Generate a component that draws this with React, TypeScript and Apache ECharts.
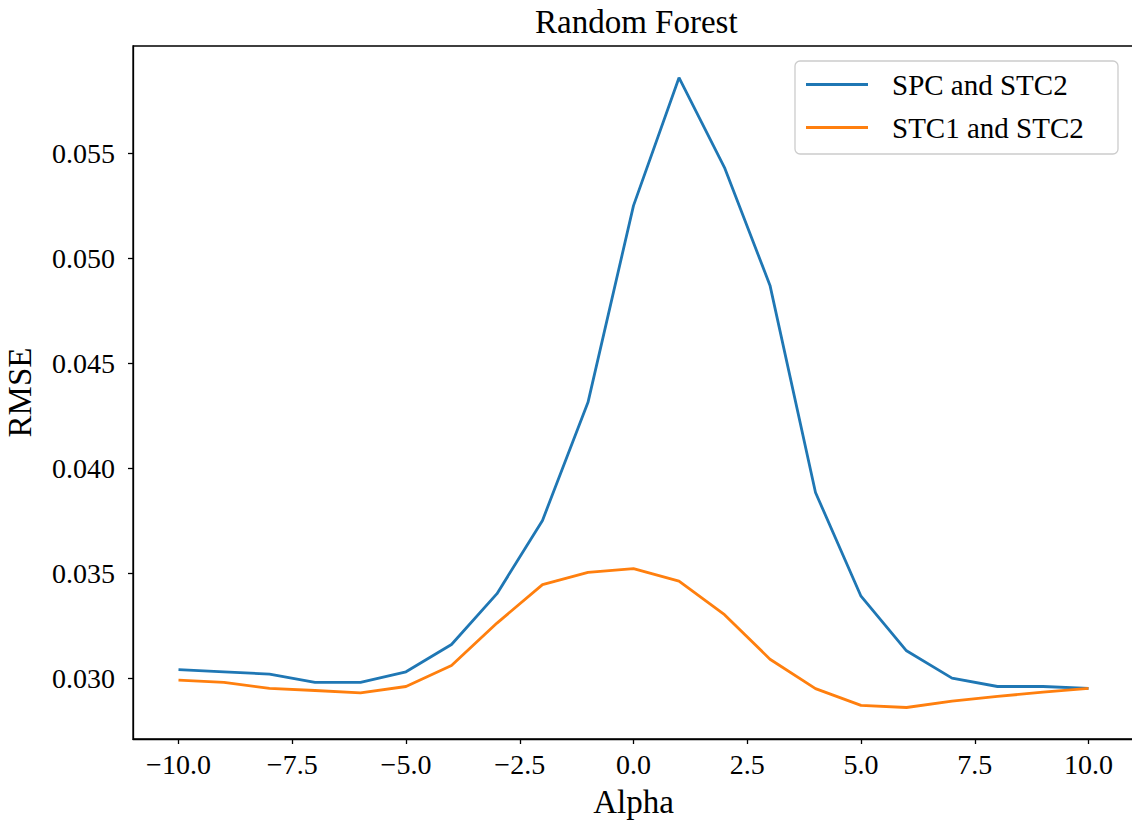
import React, { useEffect, useRef } from "react";
import * as echarts from "echarts";

const alphas = [-10, -9, -8, -7, -6, -5, -4, -3, -2, -1, 0, 1, 2, 3, 4, 5, 6, 7, 8, 9, 10];
const spcStc2 = [
  0.0304, 0.0303, 0.03019, 0.0298, 0.0298, 0.0303, 0.0316, 0.03402, 0.03751, 0.04313,
  0.0525, 0.05859, 0.05431, 0.0487, 0.03884, 0.0339, 0.0313, 0.03, 0.0296, 0.0296, 0.02951,
];
const stc1Stc2 = [
  0.0299, 0.0298, 0.02951, 0.02941, 0.0293, 0.0296, 0.0306, 0.03262, 0.03445, 0.03503,
  0.03521, 0.03462, 0.03302, 0.0309, 0.0295, 0.0287, 0.0286, 0.0289, 0.02913, 0.02933, 0.02951,
];
const xTicks = [-10, -7.5, -5, -2.5, 0, 2.5, 5, 7.5, 10];
const yTicks = [0.03, 0.035, 0.04, 0.045, 0.05, 0.055];
const seriesNames = ["SPC and STC2", "STC1 and STC2"];
const colors = ["#1f77b4", "#ff7f0e"];

const FONT = "'Liberation Serif', 'DejaVu Serif', serif";

export default function App() {
  const ref = useRef<HTMLDivElement>(null);
  useEffect(() => {
    document.body.style.margin = "0";
    const chart = echarts.init(ref.current!, null, { renderer: "svg" });
    const fmtX = (v: number) => {
      const s = Math.abs(v).toFixed(1);
      return v < 0 ? "\u2212" + s : s;
    };
    chart.setOption({
      animation: false,
      backgroundColor: "#ffffff",
      title: {
        text: "Random Forest",
        left: 530,
        top: 0,
        textStyle: { fontFamily: FONT, fontSize: 33, fontWeight: "normal", color: "#000" },
      },
      grid: {
        left: 133,
        top: 46,
        width: 1001,
        height: 693,
        containLabel: false,
        outerBoundsMode: "none",
        show: true,
        borderColor: "#000",
        borderWidth: 1.3,
        backgroundColor: "transparent",
      },
      legend: {
        orient: "vertical",
        left: 795,
        top: 61,
        padding: [6, 10, 6, 11],
        itemWidth: 62,
        itemHeight: 3,
        itemGap: 8,
        icon: "rect",
        data: seriesNames,
        textStyle: {
          fontFamily: FONT,
          fontSize: 29,
          color: "#000",
          lineHeight: 35,
          padding: [0, 0, 0, 19],
        },
        z: 10,
      },
      graphic: [
        {
          type: "rect",
          shape: { x: 795, y: 61, width: 323, height: 93, r: 5 },
          style: { fill: "rgba(255,255,255,0.8)", stroke: "#cccccc", lineWidth: 1.3 },
          z: 5,
          silent: true,
        },
      ],
      xAxis: {
        type: "value",
        min: -11,
        max: 11,
        name: "Alpha",
        nameLocation: "middle",
        nameGap: 46,
        nameTextStyle: { fontFamily: FONT, fontSize: 33, color: "#000" },
        axisLine: { show: true, onZero: false, lineStyle: { color: "#000", width: 1.3 } },
        axisTick: { show: true, inside: false, length: 5, customValues: xTicks, lineStyle: { color: "#000", width: 1.3 } },
        axisLabel: {
          customValues: xTicks,
          formatter: fmtX,
          margin: 11,
          fontFamily: FONT,
          fontSize: 28,
          color: "#000",
        },
        splitLine: { show: false },
      },
      yAxis: {
        type: "value",
        min: 0.0271,
        max: 0.0601,
        name: "RMSE",
        nameLocation: "middle",
        nameGap: 97,
        nameRotate: 90,
        nameTextStyle: { fontFamily: FONT, fontSize: 33, color: "#000" },
        axisLine: { show: true, onZero: false, lineStyle: { color: "#000", width: 1.3 } },
        axisTick: { show: true, inside: false, length: 5, customValues: yTicks, lineStyle: { color: "#000", width: 1.3 } },
        axisLabel: {
          customValues: yTicks,
          formatter: (v: number) => v.toFixed(3),
          margin: 18,
          fontFamily: FONT,
          fontSize: 28,
          color: "#000",
        },
        splitLine: { show: false },
      },
      series: [
        {
          name: seriesNames[0],
          type: "line",
          data: alphas.map((a, i) => [a, spcStc2[i]]),
          showSymbol: false,
          symbol: "none",
          lineStyle: { color: colors[0], width: 2.8 },
          itemStyle: { color: colors[0] },
          z: 2,
        },
        {
          name: seriesNames[1],
          type: "line",
          data: alphas.map((a, i) => [a, stc1Stc2[i]]),
          showSymbol: false,
          symbol: "none",
          lineStyle: { color: colors[1], width: 2.8 },
          itemStyle: { color: colors[1] },
          z: 2,
        },
      ],
    });
    return () => chart.dispose();
  }, []);
  return <div ref={ref} style={{ width: 1132, height: 820, position: "fixed", left: 0, top: 0 }} />;
}
